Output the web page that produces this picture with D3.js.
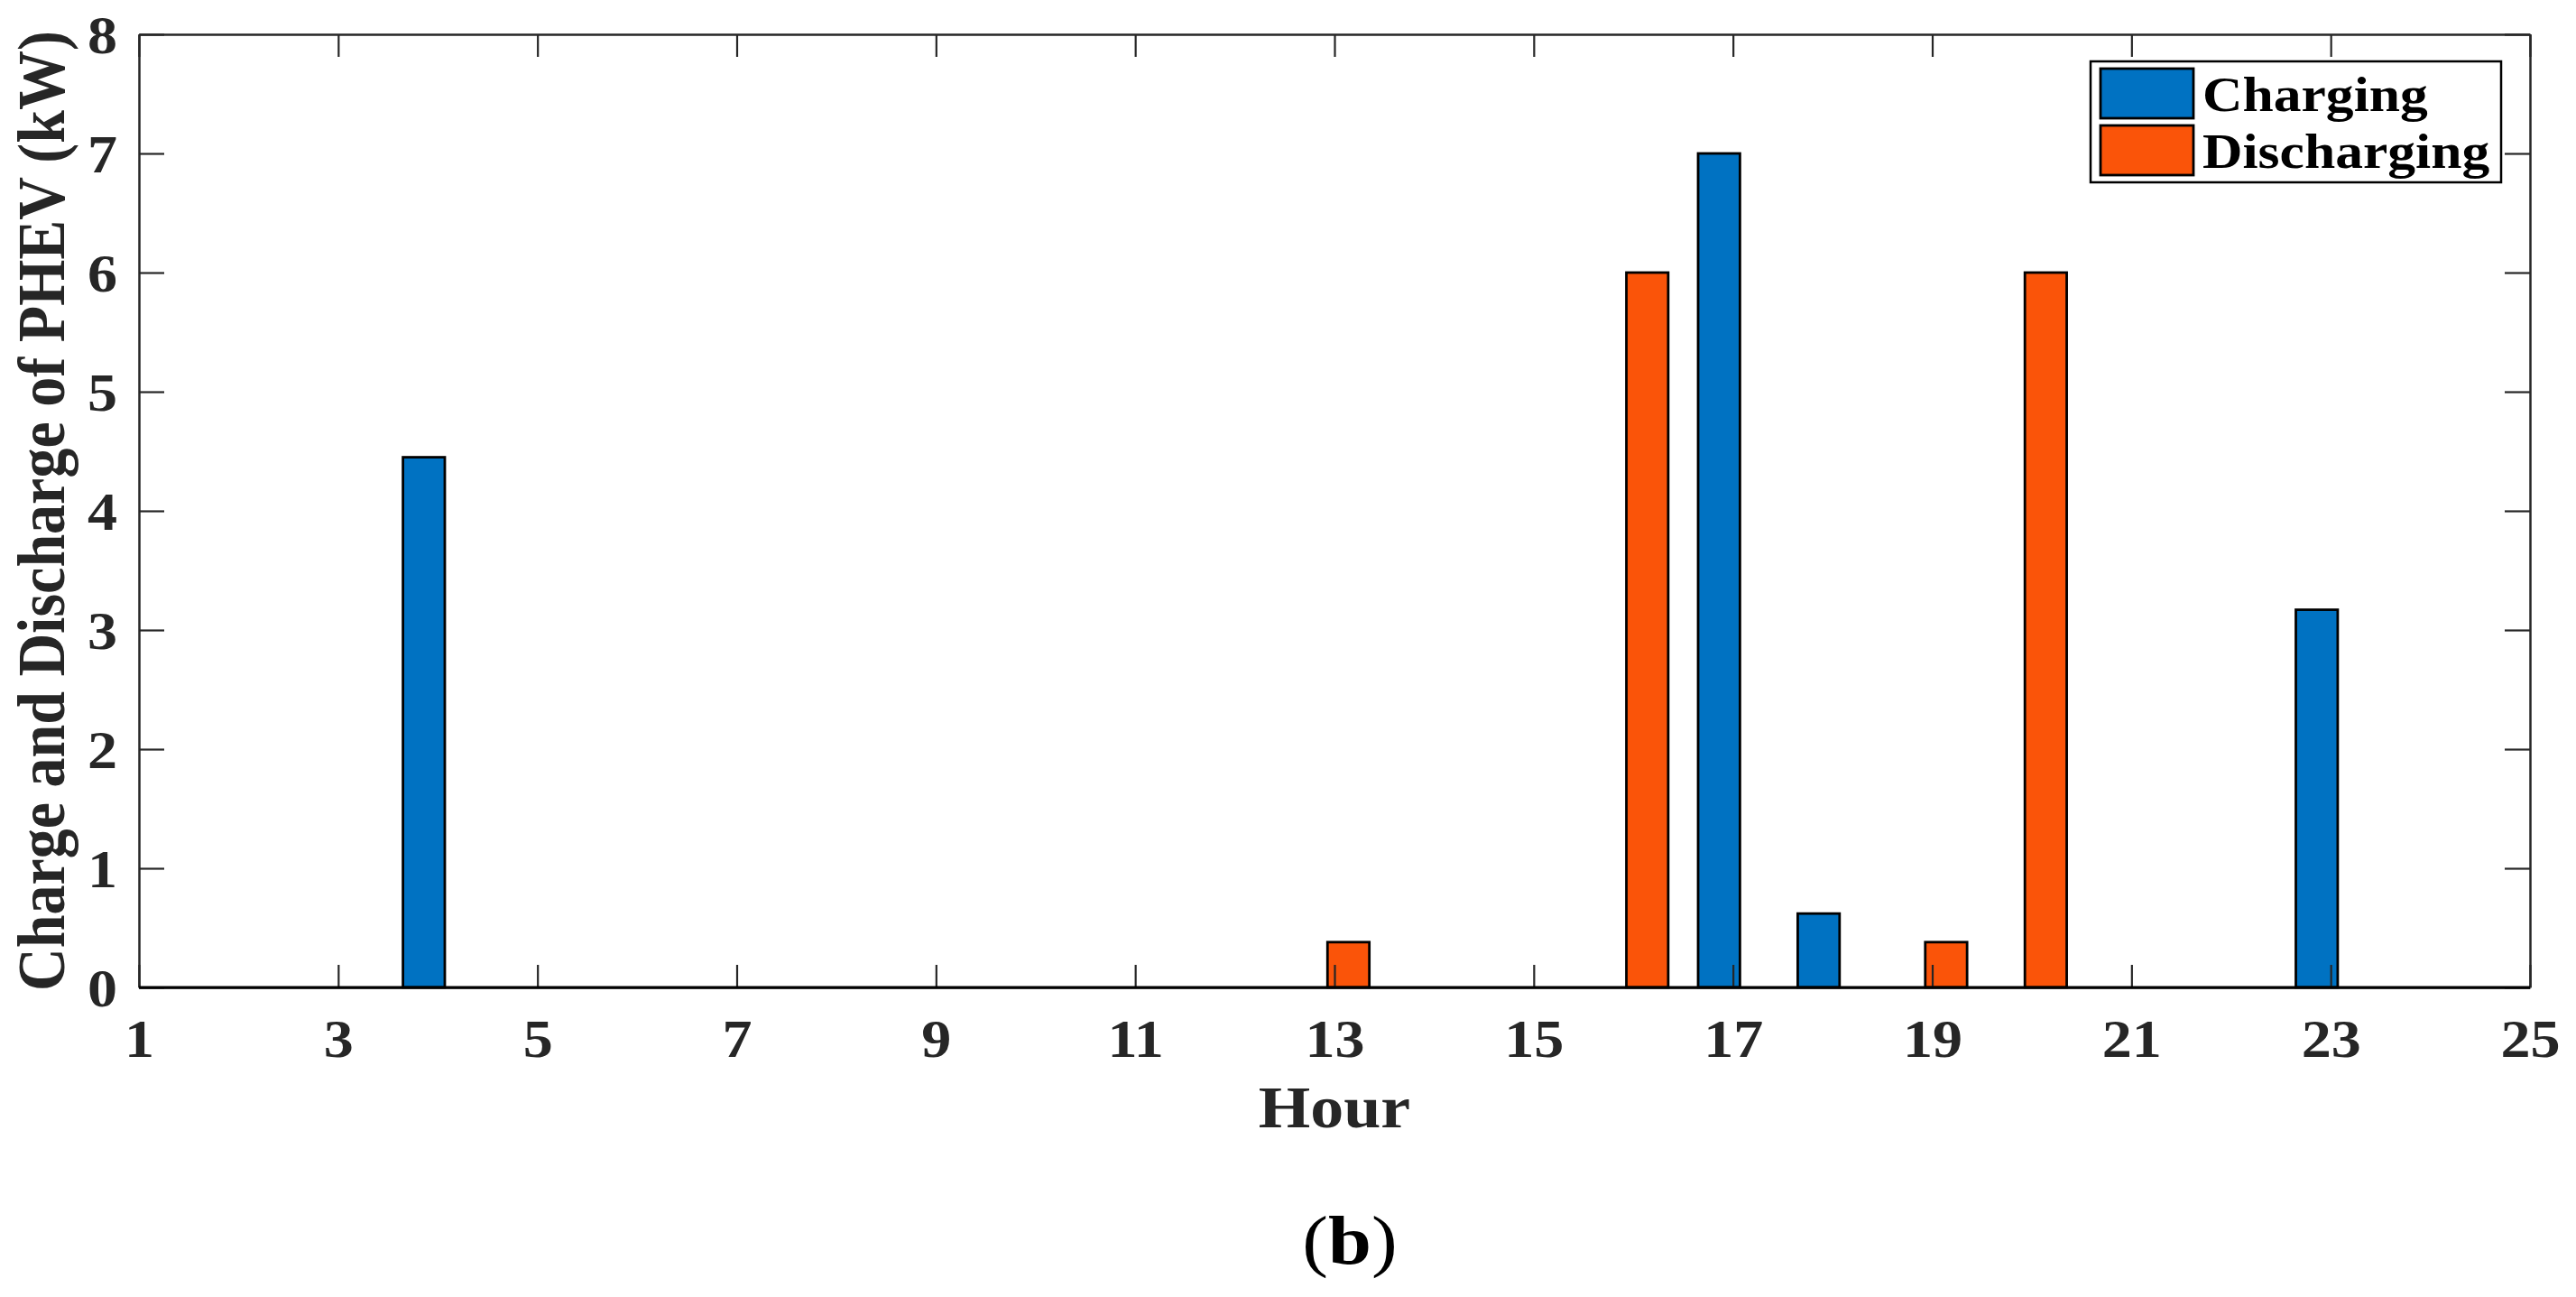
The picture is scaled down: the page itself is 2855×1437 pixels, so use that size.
<!DOCTYPE html>
<html>
<head>
<meta charset="utf-8">
<script src="https://cdn.jsdelivr.net/npm/d3@7"></script>
<style>
  body { margin: 0; background: #fff; }
</style>
</head>
<body>
<div id="chart"></div>
<script>
//hourly charge / discharge of the PHEV (kW)
var hours = [1, 2, 3, 4, 5, 6, 7, 8, 9, 10, 11, 12, 13, 14, 15, 16, 17, 18, 19, 20, 21, 22, 23, 24];
var charging    = [0, 0, 0, 4.45, 0, 0, 0, 0, 0, 0, 0, 0, 0, 0, 0, 0, 7.0, 0.62, 0, 0, 0, 0, 3.17, 0];
var discharging = [0, 0, 0, 0, 0, 0, 0, 0, 0, 0, 0, 0, 0.38, 0, 0, 6.0, 0, 0, 0.38, 6.0, 0, 0, 0, 0];
var seriesNames = ['Charging', 'Discharging'];
var seriesColors = ['#0072c2', '#fa5409'];
var xTicks = [1, 3, 5, 7, 9, 11, 13, 15, 17, 19, 21, 23, 25];
var yTicks = [0, 1, 2, 3, 4, 5, 6, 7, 8];

var FONT = '"Liberation Serif"';
var width = 2855, height = 1437;
var margin = {top: 38, right: 51, bottom: 343, left: 154};
var sx = 1.12; //source figure is stretched horizontally

var svg = d3.select('#chart').append('svg')
	.attr('width', width)
	.attr('height', height);

var plotW = width - margin.left - margin.right;
var plotH = height - margin.top - margin.bottom;

var plot = svg.append('g')
	.attr('transform', 'translate(' + margin.left + ',' + margin.top + ')');

var x = d3.scaleLinear().domain([1, 25]).range([0, plotW]);
var y = d3.scaleLinear().domain([0, 8]).range([plotH, 0]);

function serif(sel){
	sel.style('font-family', FONT).style('font-weight', 'bold');
}

//bars
var barW = x(1.42) - x(1);
var offsets = [-0.14, 0.14];
var series = [charging, discharging];

series.forEach(function(vals, i){
	var data = hours.map(function(h, j){ return {h: h, v: vals[j]}; })
		.filter(function(d){ return d.v > 0; });
	plot.append('g').selectAll('rect')
		.data(data)
	  .enter().append('rect')
		.attr('x', function(d){ return x(d.h + offsets[i]) - barW / 2; })
		.attr('y', function(d){ return y(d.v); })
		.attr('width', barW)
		.attr('height', function(d){ return y(0) - y(d.v); })
		.attr('fill', seriesColors[i])
		.attr('stroke', '#000')
		.attr('stroke-width', 2.8);
});

//axes
function styleAxis(g){
	g.select('.domain').attr('stroke', '#262626').attr('stroke-width', 2.5).attr('fill', 'none');
	g.selectAll('.tick line').attr('stroke', '#262626').attr('stroke-width', 2.2);
}

var xAxis = plot.append('g')
	.attr('transform', 'translate(0,' + plotH + ')')
	.call(d3.axisBottom(x).tickValues(xTicks).tickSizeInner(-25).tickSizeOuter(0).tickFormat(d3.format('d')))
	.call(styleAxis);
xAxis.selectAll('.tick text')
	.attr('y', 0).attr('dy', 0)
	.attr('transform', 'translate(0,77) scale(' + sx + ',1)')
	.attr('font-size', 59)
	.attr('fill', '#262626')
	.call(serif);

plot.append('g')
	.call(d3.axisTop(x).tickValues(xTicks).tickSizeInner(-25).tickSizeOuter(0).tickFormat(''))
	.call(styleAxis);

var yAxis = plot.append('g')
	.call(d3.axisLeft(y).tickValues(yTicks).tickSizeInner(-28).tickSizeOuter(0).tickFormat(d3.format('d')))
	.call(styleAxis);
yAxis.selectAll('.tick text')
	.attr('x', 0).attr('dy', 0)
	.attr('transform', 'translate(-24,20) scale(' + sx + ',1)')
	.attr('font-size', 59)
	.attr('fill', '#262626')
	.call(serif);

plot.append('g')
	.attr('transform', 'translate(' + plotW + ',0)')
	.call(d3.axisRight(y).tickValues(yTicks).tickSizeInner(-28).tickSizeOuter(0).tickFormat(''))
	.call(styleAxis);

//bar baseline
plot.append('line')
	.attr('x1', 0).attr('x2', plotW)
	.attr('y1', y(0)).attr('y2', y(0))
	.attr('stroke', '#000')
	.attr('stroke-width', 2.8);

//axis labels
svg.append('text')
	.attr('transform', 'translate(' + (margin.left + plotW / 2) + ',1249) scale(' + sx + ',1)')
	.attr('text-anchor', 'middle')
	.attr('font-size', 66)
	.attr('fill', '#262626')
	.call(serif)
	.text('Hour');

svg.append('text')
	.attr('transform', 'translate(71,' + (margin.top + plotH / 2) + ') scale(' + sx + ',1) rotate(-90)')
	.attr('text-anchor', 'middle')
	.attr('font-size', 66)
	.attr('fill', '#262626')
	.call(serif)
	.text('Charge and Discharge of PHEV (kW)');

//caption
var cap = svg.append('text')
	.attr('transform', 'translate(1496,1400) scale(' + sx + ',1)')
	.attr('text-anchor', 'middle')
	.attr('font-size', 77)
	.attr('fill', '#000')
	.call(serif);
cap.append('tspan').style('font-weight', 'normal').text('(');
cap.append('tspan').style('font-weight', 'bold').text('b');
cap.append('tspan').style('font-weight', 'normal').text(')');

//legend
var legend = svg.append('g');
legend.append('rect')
	.attr('x', 2317).attr('y', 68)
	.attr('width', 455).attr('height', 134)
	.attr('fill', '#fff')
	.attr('stroke', '#000')
	.attr('stroke-width', 2.5);

seriesNames.forEach(function(name, i){
	var ly = 76 + i * 63;
	legend.append('rect')
		.attr('x', 2328).attr('y', ly)
		.attr('width', 103).attr('height', 55)
		.attr('fill', seriesColors[i])
		.attr('stroke', '#000')
		.attr('stroke-width', 2.8);
	legend.append('text')
		.attr('transform', 'translate(2441,' + (ly + 47) + ') scale(' + sx + ',1)')
		.attr('font-size', 55)
		.attr('fill', '#000')
		.call(serif)
		.text(name);
});
</script>
</body>
</html>
